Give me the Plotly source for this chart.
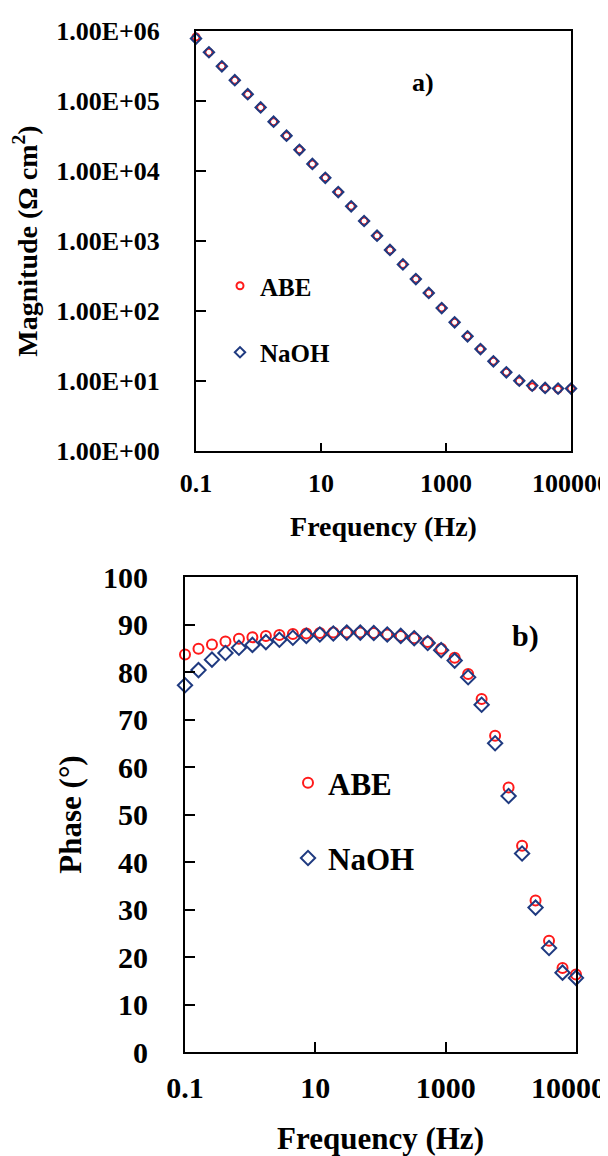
import plotly.graph_objects as go

# ---------------- data ----------------
freq = [0.1, 0.161, 0.2593, 0.4175, 0.6723, 1.083, 1.743, 2.807, 4.52, 7.279,
        11.72, 18.87, 30.39, 48.94, 78.8, 126.9, 204.4, 329.1, 529.9, 853.2,
        1374, 2212, 3562, 5736, 9237, 14874, 23950, 38566, 62101, 100000]

mag_abe = [8.2e5, 4.97e5, 3.13e5, 1.98e5, 1.25e5, 8.1e4, 5.06e4, 3.19e4, 2.01e4, 1.26e4,
           8.0e3, 5.0e3, 3.13e3, 1.93e3, 1.19e3, 745, 463, 286, 181, 110,
           68.9, 43.5, 28.6, 19.1, 13.3, 10.0, 8.3, 7.9, 7.6, 7.8]
mag_naoh = [7.8e5, 4.97e5, 3.13e5, 1.98e5, 1.25e5, 8.1e4, 5.06e4, 3.19e4, 2.01e4, 1.26e4,
            8.0e3, 5.0e3, 3.13e3, 1.93e3, 1.19e3, 745, 463, 286, 181, 110,
            68.9, 43.5, 28.6, 19.1, 13.3, 10.1, 8.6, 7.95, 7.8, 7.8]

phase_abe = [83.7, 84.9, 85.8, 86.4, 87.0, 87.3, 87.6, 87.8, 88.0, 88.1,
             88.2, 88.3, 88.3, 88.3, 88.2, 87.9, 87.6, 87.1, 86.3, 84.9,
             83.0, 79.6, 74.3, 66.6, 55.7, 43.4, 31.9, 23.4, 17.7, 16.3]
phase_naoh = [77.2, 80.4, 82.6, 84.0, 85.1, 85.7, 86.3, 86.8, 87.2, 87.6,
              87.9, 88.1, 88.3, 88.3, 88.2, 87.9, 87.6, 87.1, 86.1, 84.6,
              82.4, 78.9, 73.1, 65.0, 53.9, 41.8, 30.4, 21.9, 16.7, 15.6]

x_tickvals = [0.1, 10, 1000, 100000]
x_ticktext = ["0.1", "10", "1000", "100000"]
mag_tickvals = [1, 10, 100, 1000, 10000, 100000, 1000000]
mag_ticktext = ["1.00E+00", "1.00E+01", "1.00E+02", "1.00E+03",
                "1.00E+04", "1.00E+05", "1.00E+06"]
phase_tickvals = [0, 10, 20, 30, 40, 50, 60, 70, 80, 90, 100]

series_names = ["ABE", "NaOH"]
# ---------------------------------------

RED = "#FF1A1A"
NAVY = "#1F3A80"
FONT = "Liberation Serif"
W, H = 608, 1156


def px_x(p):
    return p / W


def px_y(p):
    return 1 - p / H


fig = go.Figure()

# top: magnitude
fig.add_trace(go.Scatter(x=freq, y=mag_abe, mode="markers", name=series_names[0],
                         xaxis="x", yaxis="y", cliponaxis=False,
                         legend="legend", legendgroup="a",
                         marker=dict(symbol="circle-open", size=7, color=RED,
                                     line=dict(width=2, color=RED))))
fig.add_trace(go.Scatter(x=freq, y=mag_naoh, mode="markers", name=series_names[1],
                         xaxis="x", yaxis="y", cliponaxis=False,
                         legend="legend", legendgroup="b",
                         marker=dict(symbol="diamond-open", size=8, color=NAVY,
                                     line=dict(width=2, color=NAVY))))
# bottom: phase
fig.add_trace(go.Scatter(x=freq, y=phase_abe, mode="markers", name=series_names[0],
                         xaxis="x2", yaxis="y2", cliponaxis=False,
                         legend="legend2", legendgroup="c",
                         marker=dict(symbol="circle-open", size=10, color=RED,
                                     line=dict(width=2, color=RED))))
fig.add_trace(go.Scatter(x=freq, y=phase_naoh, mode="markers", name=series_names[1],
                         xaxis="x2", yaxis="y2", cliponaxis=False,
                         legend="legend2", legendgroup="d",
                         marker=dict(symbol="diamond-open", size=11, color=NAVY,
                                     line=dict(width=2, color=NAVY))))

axis_common = dict(showline=True, linecolor="black", linewidth=2, mirror=True,
                   showgrid=False, zeroline=False, ticks="inside",
                   tickcolor="black", tickwidth=2, automargin=False,
                   ticklabeloverflow="allow")

fig.update_layout(
    width=W, height=H,
    margin=dict(l=0, r=0, t=0, b=0, autoexpand=False),
    paper_bgcolor="white", plot_bgcolor="white",
    font=dict(family=FONT, color="black", weight="bold"),
    xaxis=dict(**axis_common, type="log", range=[-1, 5],
               domain=[px_x(188), px_x(563)], anchor="y",
               tickvals=x_tickvals, ticktext=x_ticktext, ticklen=8,
               tickfont=dict(size=26, family=FONT, weight="bold"),
               ticklabelstandoff=8,
               title=dict(text="Frequency (Hz)", standoff=19,
                          font=dict(size=28, family=FONT, weight="bold"))),
    yaxis=dict(**axis_common, type="log", range=[0, 6],
               domain=[px_y(443), px_y(23)], anchor="x",
               tickvals=mag_tickvals, ticktext=mag_ticktext, ticklen=10,
               tickfont=dict(size=26, family=FONT, weight="bold"),
               ticklabelstandoff=29,
               title=dict(text="Magnitude (Ω cm<sup>2</sup>)", standoff=14,
                          font=dict(size=28, family=FONT, weight="bold"))),
    xaxis2=dict(**axis_common, type="log", range=[-1, 5],
                domain=[px_x(177), px_x(568)], anchor="y2",
                tickvals=x_tickvals, ticktext=x_ticktext, ticklen=10,
                tickfont=dict(size=30, family=FONT, weight="bold"),
                ticklabelstandoff=8,
                title=dict(text="Frequency (Hz)", standoff=24,
                           font=dict(size=31, family=FONT, weight="bold"))),
    yaxis2=dict(**axis_common, range=[0, 100],
                domain=[px_y(1044), px_y(569)], anchor="x2",
                tickvals=phase_tickvals, ticklen=10,
                tickfont=dict(size=30, family=FONT, weight="bold"),
                ticklabelstandoff=29,
                title=dict(text="Phase (°)", standoff=12,
                           font=dict(size=31, family=FONT, weight="bold"))),
    legend=dict(x=px_x(212), y=px_y(255), xanchor="left", yanchor="top",
                bgcolor="rgba(0,0,0,0)", traceorder="grouped", tracegroupgap=31,
                font=dict(size=25, family=FONT, weight="bold")),
    legend2=dict(x=px_x(280), y=px_y(748), xanchor="left", yanchor="top",
                 bgcolor="rgba(0,0,0,0)", traceorder="grouped", tracegroupgap=32,
                 font=dict(size=31, family=FONT, weight="bold")),
    annotations=[
        dict(text="a)", x=px_x(415), y=px_y(75), xref="paper", yref="paper",
             xanchor="center", yanchor="middle",
             showarrow=False, font=dict(size=26, family=FONT, weight="bold")),
        dict(text="b)", x=px_x(517), y=px_y(628), xref="paper", yref="paper",
             xanchor="center", yanchor="middle",
             showarrow=False, font=dict(size=30, family=FONT, weight="bold")),
    ],
)

fig.write_html("out.html")
